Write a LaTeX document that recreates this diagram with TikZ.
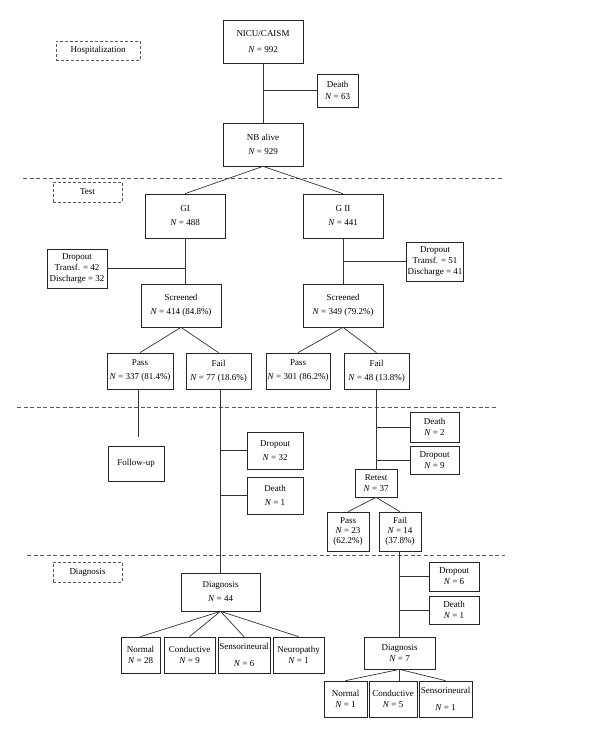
\documentclass[tikz,border=0pt]{standalone}
\usepackage{fontspec}
\setmainfont{Liberation Serif}
\usetikzlibrary{calc}
\newcommand{\Nn}{\textit{N}}
\begin{document}
\begin{tikzpicture}[x=1pt,y=-1pt,font=\fontsize{9}{11}\selectfont,line width=0.7pt]
\tikzstyle{b}=[draw=black!85,inner sep=1pt,align=center]
\tikzstyle{tag}=[draw=black!65,dash pattern=on 3pt off 2pt,minimum width=69pt,minimum height=20pt]
\tikzstyle{sep}=[black!65,dash pattern=on 4pt off 2.5pt]
\tikzstyle{ln}=[black!80]
\useasboundingbox (0,0) rectangle (600,738);
% stage labels and separators
\node[tag,minimum width=84pt,minimum height=19pt] (hosp) at (98,50.5) {Hospitalization};
\node[tag] (test) at (87.5,192) {Test};
\node[tag] (diagt) at (87.5,572) {Diagnosis};
\draw[sep] (23,178) -- (503,178);
\draw[sep] (17,407) -- (497,407);
\draw[sep] (27,555) -- (505,555);
% hospitalization
\node[b,minimum width=80pt,minimum height=43pt] (nicu) at (263,41.5) {NICU/CAISM\\[5pt]\Nn{} = 992};
\node[b,minimum width=41pt,minimum height=33pt] (death1) at (337.5,90.5) {Death\\[1pt]\Nn{} = 63};
\node[b,minimum width=80pt,minimum height=43pt] (alive) at (263,144.5) {NB alive\\[3pt]\Nn{} = 929};
\draw[ln] (nicu) -- (alive);
\draw[ln] (nicu.south |- death1.west) -- (death1.west);
% test
\node[b,minimum width=80pt,minimum height=44pt] (g1) at (185,216) {GI\\[3pt]\Nn{} = 488};
\node[b,minimum width=80pt,minimum height=44pt] (g2) at (343,216) {G II\\[3pt]\Nn{} = 441};
\draw[ln] (alive.south) -- (g1.north);
\draw[ln] (alive.south) -- (g2.north);
\node[b,minimum width=60pt,minimum height=39pt] (drop1) at (77,268.5) {Dropout\\Transf. = 42\\Discharge = 32};
\node[b,minimum width=56pt,minimum height=39pt] (drop2) at (435,261.5) {Dropout\\Transf. = 51\\Discharge = 41};
\node[b,minimum width=80pt,minimum height=43pt] (scr1) at (181,305.5) {Screened\\[3pt]\Nn{} = 414 (84.8\%)};
\node[b,minimum width=80pt,minimum height=43pt] (scr2) at (343,305.5) {Screened\\[3pt]\Nn{} = 349 (79.2\%)};
\draw[ln] (g1.south) -- (g1.south |- scr1.north);
\draw[ln] (g2.south) -- (scr2.north);
\draw[ln] (drop1.east) -- (drop1.east -| g1.south);
\draw[ln] (g2.south |- drop2.west) -- (drop2.west);
\node[b,minimum width=66pt,minimum height=36pt] (pass1) at (140,371) {Pass\\[3pt]\Nn{} = 337 (81.4\%)};
\node[b,minimum width=65pt,minimum height=36pt] (fail1) at (218.5,371) {Fail\\[3pt]\Nn{} = 77 (18.6\%)};
\node[b,minimum width=64pt,minimum height=36pt] (pass2) at (298,371) {Pass\\[3pt]\Nn{} = 301 (86.2\%)};
\node[b,minimum width=65pt,minimum height=36pt] (fail2) at (376.5,371) {Fail\\[3pt]\Nn{} = 48 (13.8\%)};
\draw[ln] (scr1.south) -- (pass1.north);
\draw[ln] (scr1.south) -- (fail1.north);
\draw[ln] (scr2.south) -- (pass2.north);
\draw[ln] (scr2.south) -- (fail2.north);
% follow-up, retest
\node[b,minimum width=56pt,minimum height=35pt] (fu) at (136,463.5) {Follow-up};
\coordinate (fuend) at (138,437);
\draw[ln] (pass1.south -| fuend) -- (fuend);
\node[b,minimum width=79pt,minimum height=38pt] (diag1) at (220.5,592) {Diagnosis\\[3pt]\Nn{} = 44};
\node[b,minimum width=56pt,minimum height=37pt] (drop3) at (275,450.5) {Dropout\\[3pt]\Nn{} = 32};
\node[b,minimum width=56pt,minimum height=37pt] (death3) at (275,495.5) {Death\\[3pt]\Nn{} = 1};
\draw[ln] (fail1.south -| diag1.north) -- (diag1.north);
\draw[ln] (diag1.north |- drop3.west) -- (drop3.west);
\draw[ln] (diag1.north |- death3.west) -- (death3.west);
\node[b,minimum width=49pt,minimum height=30pt] (death2) at (434.5,427) {Death\\\Nn{} = 2};
\node[b,minimum width=49pt,minimum height=28pt] (drop4) at (434.5,460) {Dropout\\\Nn{} = 9};
\node[b,minimum width=42pt,minimum height=28pt] (retest) at (376,483) {Retest\\\Nn{} = 37};
\draw[ln] (fail2.south -| retest.north) -- (retest.north);
\draw[ln] (retest.north |- death2.west) -- (death2.west);
\draw[ln] (retest.north |- drop4.west) -- (drop4.west);
\node[b,minimum width=42pt,minimum height=39pt] (pass3) at (348,531.5) {Pass\\[-1pt]\Nn{} = 23\\[-1pt](62.2\%)};
\node[b,minimum width=42pt,minimum height=39pt] (fail3) at (400,531.5) {Fail\\[-1pt]\Nn{} = 14\\[-1pt](37.8\%)};
\draw[ln] (retest.south) -- (pass3.north);
\draw[ln] (retest.south) -- (fail3.north);
% diagnosis
\node[b,minimum width=50pt,minimum height=29pt] (drop5) at (454,576.5) {Dropout\\\Nn{} = 6};
\node[b,minimum width=50pt,minimum height=28pt] (death5) at (454,610) {Death\\\Nn{} = 1};
\node[b,minimum width=71pt,minimum height=32pt] (diag2) at (399.5,653) {Diagnosis\\\Nn{} = 7};
\draw[ln] (fail3.south -| diag2.north) -- (diag2.north);
\draw[ln] (diag2.north |- drop5.west) -- (drop5.west);
\draw[ln] (diag2.north |- death5.west) -- (death5.west);
\node[b,minimum width=39pt,minimum height=36pt] (n1) at (140.5,655) {Normal\\\Nn{} = 28};
\node[b,minimum width=51pt,minimum height=36pt] (c1) at (189.5,655) {Conductive\\\Nn{} = 9};
\node[b,minimum width=52pt,minimum height=36pt] (s1) at (244,655) {Sensorineural\\[6pt]\Nn{} = 6};
\node[b,minimum width=51pt,minimum height=36pt] (p1) at (298.5,655) {Neuropathy\\\Nn{} = 1};
\foreach \k in {n1,c1,s1,p1} \draw[ln] (diag1.south) -- (\k.north);
\node[b,minimum width=43pt,minimum height=36pt] (n2) at (345.5,699) {Normal\\\Nn{} = 1};
\node[b,minimum width=48pt,minimum height=36pt] (c2) at (393,699) {Conductive\\\Nn{} = 5};
\node[b,minimum width=53pt,minimum height=36pt] (s2) at (445.5,699) {Sensorineural\\[6pt]\Nn{} = 1};
\draw[ln] (diag2.south) -- (n2.north);
\draw[ln] (diag2.south) -- (diag2.south |- c2.north);
\draw[ln] (diag2.south) -- (s2.north);
\end{tikzpicture}
\end{document}
